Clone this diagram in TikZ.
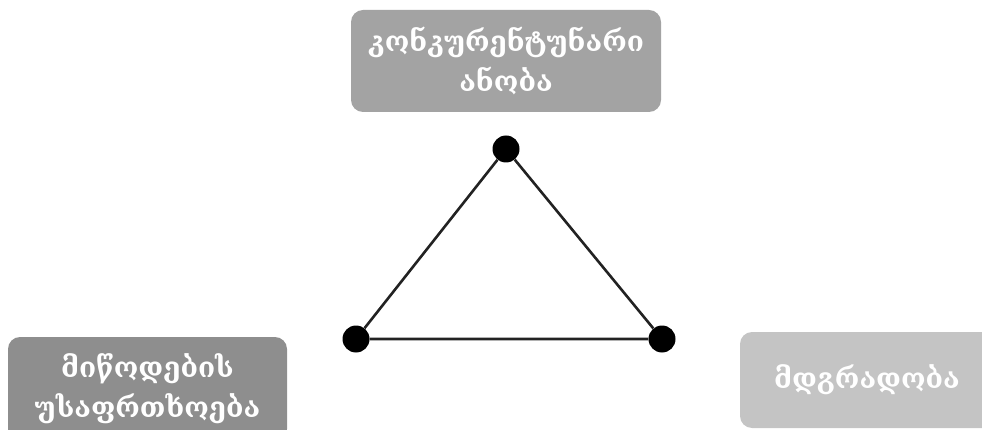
\documentclass[tikz,border=0pt]{standalone}
\usepackage{fontspec}
\newfontfamily\geo{DejaVu Serif}
\definecolor{boxtop}{HTML}{A3A3A3}
\definecolor{boxleft}{HTML}{8E8E8E}
\definecolor{boxright}{HTML}{C4C4C4}
\definecolor{edgecol}{HTML}{222222}
\tikzset{
  boxnode/.style={rounded corners=12pt, inner sep=0pt, text=white, align=center,
    font=\geo\bfseries\fontsize{28}{40}\selectfont},
  dotnode/.style={circle, fill=black, inner sep=0pt, minimum size=27pt},
  edgeline/.style={draw=edgecol, line width=2.6pt}
}
\begin{document}
\begin{tikzpicture}[x=1pt,y=-1pt]
\useasboundingbox (0,0) rectangle (982,430);
\node[boxnode, fill=boxtop, minimum width=310pt, minimum height=102pt] (top) at (506,61)
  {კონკურენტუნარი\\ანობა};
\node[boxnode, fill=boxleft, minimum width=279pt, minimum height=104pt] (left) at (147.5,389)
  {მიწოდების\\უსაფრთხოება};
\node[boxnode, fill=boxright, minimum width=254pt, minimum height=96pt] (right) at (867,380)
  {მდგრადობა};
\node[dotnode] (a) at (506,149) {};
\node[dotnode] (b) at (356,339) {};
\node[dotnode] (c) at (662,339) {};
\draw[edgeline] (a) -- (b) -- (c) -- (a);
\end{tikzpicture}
\end{document}
